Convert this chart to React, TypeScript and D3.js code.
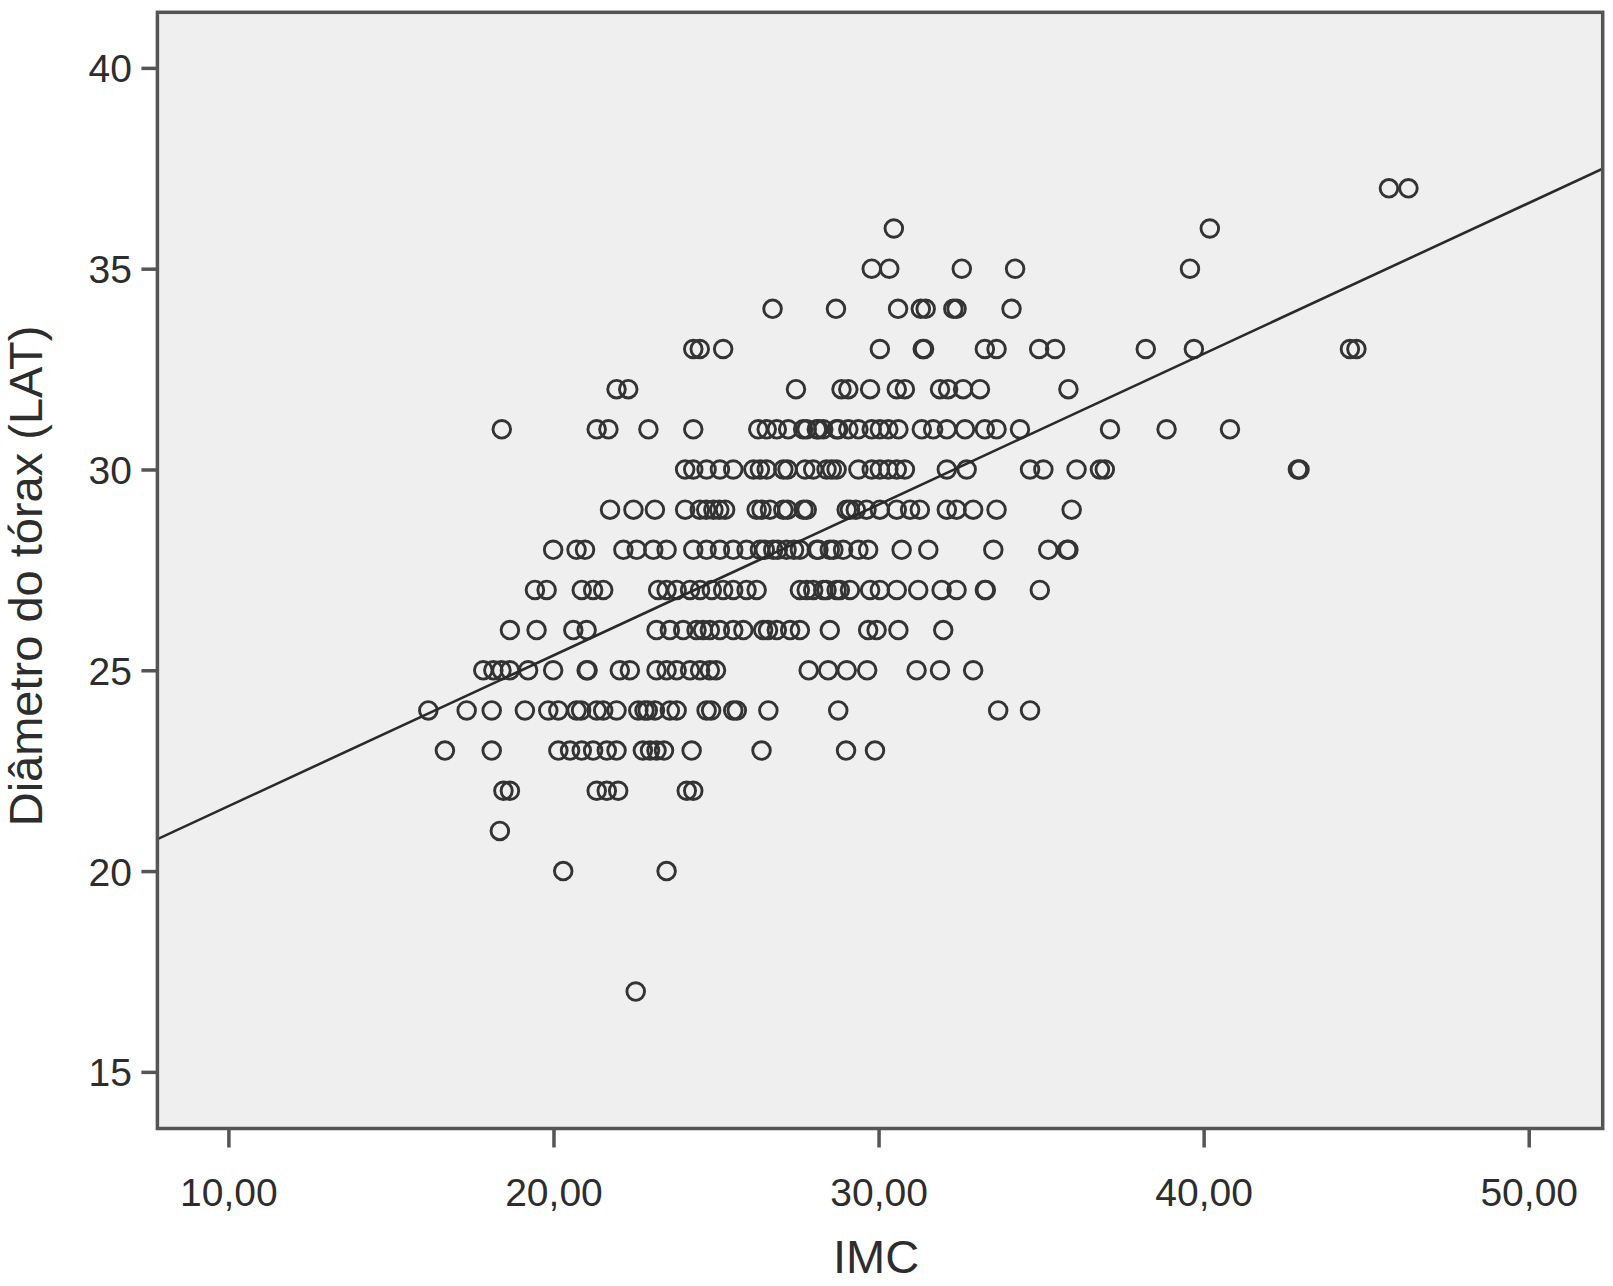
import React, { useEffect, useRef } from "react";
import * as d3 from "d3";

// IMC values, one array per thorax diameter level (LAT)
const imc37 = [45.7, 46.3];
const imc36 = [30.47, 40.19];
const imc35 = [29.79, 30.33, 32.56, 34.2, 39.58];
const imc34 = [26.74, 28.69, 30.6, 31.3, 31.45, 32.3, 32.4, 34.09];
const imc33 = [24.3, 24.5, 25.22, 30.04, 31.36, 31.4, 33.27, 33.63, 34.94, 35.43, 38.22, 39.7, 44.5, 44.7];
const imc32 = [21.94, 22.3, 27.46, 28.86, 29.07, 29.74, 30.56, 30.81, 31.89, 32.14, 32.6, 33.12, 35.84];
const imc31 = [
  18.41, 21.33, 21.69, 22.92, 24.3, 26.3, 26.56, 26.87, 27.22, 27.68, 27.79, 28.1, 28.15, 28.3, 28.71,
  28.76, 29.07, 29.38, 29.79, 30.04, 30.3, 30.61, 31.33, 31.68, 32.1, 32.66, 33.27, 33.63, 34.35,
  37.12, 38.86, 40.81,
];
const imc30 = [
  24.05, 24.3, 24.71, 25.12, 25.53, 26.15, 26.35, 26.56, 27.07, 27.2, 27.74, 27.99, 28.4, 28.56, 28.71,
  29.38, 29.79, 30.04, 30.3, 30.56, 30.81, 32.1, 32.71, 34.66, 35.07, 36.09, 36.81, 36.96, 42.9, 42.95,
];
const imc29 = [
  21.74, 22.46, 23.12, 24.05, 24.5, 24.7, 24.92, 25.1, 25.28, 26.25, 26.4, 26.66, 27.07, 27.2, 27.69,
  27.79, 29.02, 29.12, 29.3, 29.63, 30.04, 30.56, 30.97, 31.27, 32.1, 32.4, 32.91, 33.63, 35.94,
];
const imc28 = [
  19.99, 20.71, 20.97, 22.15, 22.56, 23.07, 23.48, 24.3, 24.71, 25.12, 25.53, 25.94, 26.35, 26.5, 26.76,
  26.9, 27.17, 27.4, 27.58, 28.1, 28.15, 28.5, 28.61, 28.91, 29.38, 29.68, 30.71, 31.53, 33.53, 35.22,
  35.8, 35.84,
];
const imc27 = [
  19.43, 19.79, 20.87, 21.22, 21.53, 23.22, 23.48, 23.79, 24.2, 24.51, 24.87, 25.22, 25.53, 25.94, 26.25,
  27.58, 27.79, 27.99, 28.3, 28.4, 28.71, 28.81, 29.12, 29.74, 30.04, 30.56, 31.22, 31.94, 32.4, 33.27,
  33.3, 34.96,
];
const imc26 = [
  18.66, 19.48, 20.61, 21.02, 23.17, 23.58, 23.99, 24.4, 24.6, 24.81, 25.12, 25.53, 25.84, 26.45, 26.6,
  26.87, 27.28, 27.58, 28.5, 29.68, 29.94, 30.61, 31.99,
];
const imc25 = [
  17.84, 18.15, 18.4, 18.66, 19.22, 19.99, 21.02, 21.05, 22.04, 22.35, 23.17, 23.48, 23.79, 24.2, 24.51,
  24.81, 25.0, 27.85, 28.45, 29.02, 29.65, 31.17, 31.89, 32.91,
];
const imc24 = [
  16.15, 17.33, 18.1, 19.12, 19.84, 20.15, 20.71, 20.85, 21.33, 21.53, 21.94, 22.61, 22.8, 22.9, 23.12,
  23.58, 23.79, 24.71, 24.85, 25.53, 25.64, 26.61, 28.76, 33.68, 34.66,
];
const imc23 = [16.66, 18.1, 20.15, 20.51, 20.87, 21.22, 21.64, 21.94, 22.75, 22.97, 23.17, 23.4, 24.25, 26.4, 29.0, 29.89];
const imc22 = [18.46, 18.66, 21.33, 21.64, 21.99, 24.1, 24.3];
const imc21 = [18.35];
const imc20 = [20.3, 23.48];
const imc17 = [22.53];

const diameterLevels = [37, 36, 35, 34, 33, 32, 31, 30, 29, 28, 27, 26, 25, 24, 23, 22, 21, 20, 17];
const imcRows = [
  imc37, imc36, imc35, imc34, imc33, imc32, imc31, imc30, imc29, imc28,
  imc27, imc26, imc25, imc24, imc23, imc22, imc21, imc20, imc17,
];

const xTicks = [10, 20, 30, 40, 50];
const yTicks = [15, 20, 25, 30, 35, 40];

// fit line as drawn in the figure
const fitIntercept = 17.86;
const fitSlope = 0.3755;

const xDomain = [7.816, 52.276];
const yDomain = [13.59, 41.384];

export default function App() {
  const ref = useRef<SVGSVGElement>(null);

  useEffect(() => {
    const svg = d3.select(ref.current);
    svg.selectAll("*").remove();

    const plot = { left: 157.4, right: 1602.7, top: 12.3, bottom: 1128.5 };
    const font = "'Liberation Sans', Arial, Helvetica, sans-serif";

    const x = d3.scaleLinear().domain(xDomain).range([plot.left, plot.right]);
    const y = d3.scaleLinear().domain(yDomain).range([plot.bottom, plot.top]);

    const points: [number, number][] = [];
    diameterLevels.forEach((lvl, i) => imcRows[i].forEach(v => points.push([v, lvl])));

    // plot background
    svg
      .append("rect")
      .attr("x", plot.left)
      .attr("y", plot.top)
      .attr("width", plot.right - plot.left)
      .attr("height", plot.bottom - plot.top)
      .attr("fill", "#efefef");

    svg
      .append("clipPath")
      .attr("id", "plotclip")
      .append("rect")
      .attr("x", plot.left)
      .attr("y", plot.top)
      .attr("width", plot.right - plot.left)
      .attr("height", plot.bottom - plot.top);

    // points
    svg
      .append("g")
      .selectAll("circle")
      .data(points)
      .join("circle")
      .attr("cx", d => x(d[0]))
      .attr("cy", d => y(d[1]))
      .attr("r", 8.8)
      .attr("fill", "none")
      .attr("stroke", "#333")
      .attr("stroke-width", 2.9);

    // fit line
    const line = d3
      .line<number>()
      .x(d => x(d))
      .y(d => y(fitIntercept + fitSlope * d));
    svg
      .append("path")
      .attr("clip-path", "url(#plotclip)")
      .attr("d", line(xDomain))
      .attr("fill", "none")
      .attr("stroke", "#2a2a2a")
      .attr("stroke-width", 2.6);

    // y axis
    const yAxis = svg
      .append("g")
      .attr("transform", `translate(${plot.left},0)`)
      .call(d3.axisLeft(y).tickValues(yTicks).tickSize(16).tickPadding(9.5));
    yAxis.select(".domain").remove();
    yAxis.selectAll(".tick line").attr("stroke", "#555").attr("stroke-width", 3.5);
    yAxis
      .selectAll(".tick text")
      .attr("dy", "0.36em")
      .attr("fill", "#2d2d2d")
      .style("font-family", font)
      .style("font-size", "39px");

    // x axis
    const xAxis = svg
      .append("g")
      .attr("transform", `translate(0,${plot.bottom})`)
      .call(
        d3
          .axisBottom(x)
          .tickValues(xTicks)
          .tickSize(19)
          .tickPadding(31)
          .tickFormat(d => d3.format(".2f")(d as number).replace(".", ","))
      );
    xAxis.select(".domain").remove();
    xAxis.selectAll(".tick line").attr("stroke", "#555").attr("stroke-width", 3.5);
    xAxis
      .selectAll(".tick text")
      .attr("fill", "#2d2d2d")
      .style("font-family", font)
      .style("font-size", "39px");

    // frame
    svg
      .append("rect")
      .attr("x", plot.left)
      .attr("y", plot.top)
      .attr("width", plot.right - plot.left)
      .attr("height", plot.bottom - plot.top)
      .attr("fill", "none")
      .attr("stroke", "#555")
      .attr("stroke-width", 3.5);

    // axis titles
    svg
      .append("text")
      .attr("x", (plot.left + plot.right) / 2 - 4)
      .attr("y", 1273)
      .attr("text-anchor", "middle")
      .attr("fill", "#2d2d2d")
      .style("font-family", font)
      .style("font-size", "47px")
      .text("IMC");

    svg
      .append("text")
      .attr("transform", "rotate(-90)")
      .attr("x", -576)
      .attr("y", 42)
      .attr("text-anchor", "middle")
      .attr("fill", "#2d2d2d")
      .style("font-family", font)
      .style("font-size", "47px")
      .text("Diâmetro do tórax (LAT)");
  }, []);

  return (
    <svg
      ref={ref}
      width={1613}
      height={1286}
      style={{ position: "absolute", left: 0, top: 0, background: "#fff" }}
    />
  );
}
